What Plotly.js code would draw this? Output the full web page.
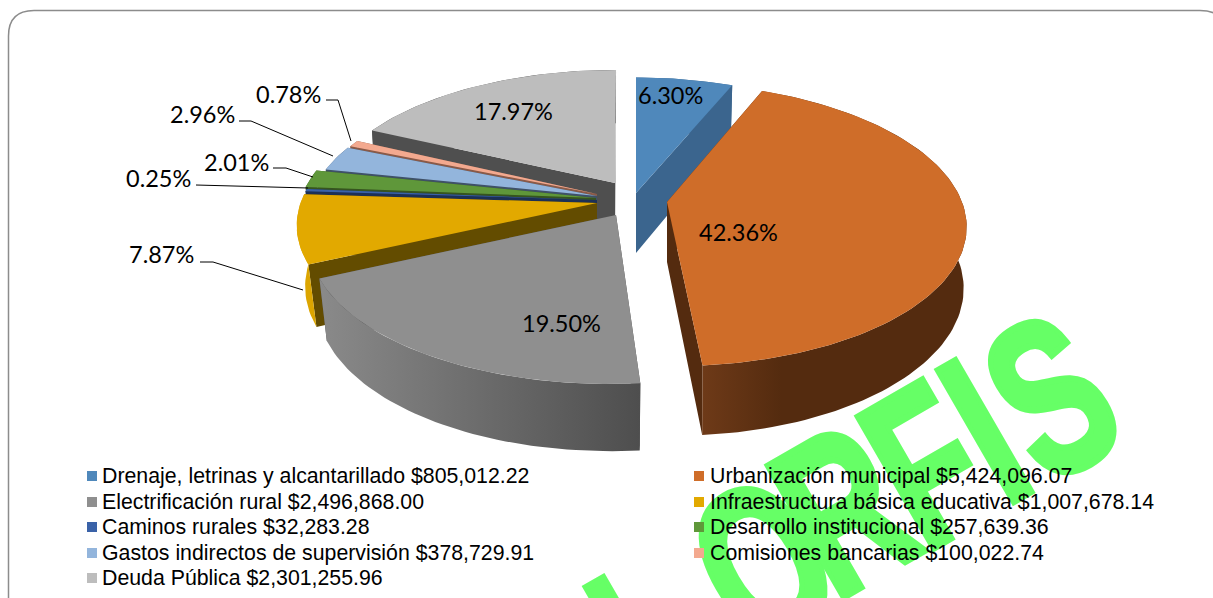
<!DOCTYPE html>
<html>
<head>
<meta charset="utf-8">
<script src="https://cdn.plot.ly/plotly-3.0.1.min.js"></script>
<style>html,body{margin:0;padding:0;background:#fff;overflow:hidden}</style>
</head>
<body>
<div id="chart" style="width:1213px;height:598px"></div>
<script>
const categories = ["Drenaje, letrinas y alcantarillado","Urbanización municipal","Electrificación rural","Infraestructura básica educativa","Caminos rurales","Desarrollo institucional","Gastos indirectos de supervisión","Comisiones bancarias","Deuda Pública"];
const amounts = [805012.22,5424096.07,2496868.00,1007678.14,32283.28,257639.36,378729.91,100022.74,2301255.96];
const percents = [6.30,42.36,19.50,7.87,0.25,2.01,2.96,0.78,17.97];

const topColors = ["#4f88bb","#cf6d29","#8f8f8f","#e2a900","#3a62a8","#5f973a","#93b5dc","#f3a98f","#bdbdbd"];
const wallColors = ["#3b658e","#542b0f","#4f4f4f","#634c00","#1c3056","#36541f","#3f5168","#8a5a48","#4f4f4f"];
const outerStart = ["#3b658e","#6e3a18","#8a8a8a","#dca500","#1c3056","#36541f","#3f5168","#8a5a48","#4f4f4f"];
const outerEnd = ["#3b658e","#542b0f","#4e4e4e","#dca500","#1c3056","#36541f","#3f5168","#8a5a48","#4f4f4f"];

// projection of the pie
const apexX = [636,667,616,597,597,596,597,597,615];
const apexY = [193,202,215,203,200,198,196,194,183];
const radiusX = [0.97,1,1.025,1.005,1,1,0.97,0.96,0.975];
const radiusY = [0.97,1,1.03,1,1,1,0.97,0.96,0.95];
const skew = [0,0.037,-0.035,0,0,0,0,0,-0.009];
const shrink = [0.985,0.99,0.975,0.972,0.985,0.985,0.985,0.985,0.985];
const A = 295, B = 138, K = 0.159, H = 60;
const drawOrder = [8,7,6,5,4,3,0,2,1];

function project(i, deg, bottom) {
  const t = deg * Math.PI / 180, u = Math.sin(t), v = Math.cos(t), w = 1 + K * v;
  const f = bottom ? shrink[i] : 1;
  const dy = f * radiusY[i] * B * v / w;
  return [apexX[i] + f * radiusX[i] * A * u / w - skew[i] * dy, apexY[i] - dy + (bottom ? H / w : 0)];
}
function apexPoint(i, bottom) { return [apexX[i], apexY[i] + (bottom ? H : 0)]; }
function arc(i, a, b, bottom) {
  const n = Math.max(4, Math.ceil(Math.abs(b - a) / 1.5)), pts = [];
  for (let k = 0; k <= n; k++) pts.push(project(i, a + (b - a) * k / n, bottom));
  return pts;
}
function polyTrace(pts, opts) {
  const x = pts.map(p => p ? p[0] : null), y = pts.map(p => p ? p[1] : null);
  return Object.assign({type:"scatter", mode:"lines", x, y, fill:"toself", line:{width:0}, hoverinfo:"skip", showlegend:false}, opts);
}

const traces = [];
const startAngles = []; let acc = 0;
const total = percents.reduce((s, v) => s + v, 0);
percents.forEach(p => { startAngles.push(acc); acc += p / total * 360; });

drawOrder.forEach(i => {
  const a = startAngles[i], b = a + percents[i] / total * 360;
  const radial = [apexPoint(i,false), project(i,a,false), project(i,a,true), apexPoint(i,true), apexPoint(i,false), null,
                  apexPoint(i,false), project(i,b,false), project(i,b,true), apexPoint(i,true), apexPoint(i,false)];
  traces.push(polyTrace(radial, {fillcolor: wallColors[i]}));
  const outer = arc(i,a,b,false).concat(arc(i,b,a,true));
  outer.push(outer[0]);
  traces.push(polyTrace(outer, {fillgradient:{type:"horizontal", colorscale: i === 1
      ? [[0,outerStart[i]],[0.3,outerEnd[i]],[1,outerEnd[i]]]
      : [[0,outerStart[i]],[1,outerEnd[i]]]}}));
  const top = [apexPoint(i,false)].concat(arc(i,a,b,false));
  top.push(apexPoint(i,false));
  traces.push(polyTrace(top, {fillcolor: topColors[i]}));
});

// leader lines
const leaders = [
  [[200,262],[213,262],[303,290]],
  [[196,185],[308,188]],
  [[273,168],[286,168],[313,177]],
  [[239,121],[251,121],[333,156]],
  [[326,100],[338,100],[351,141]]
];
const lx = [], ly = [];
leaders.forEach(l => { l.forEach(p => { lx.push(p[0]); ly.push(p[1]); }); lx.push(null); ly.push(null); });
traces.push({type:"scatter", mode:"lines", x:lx, y:ly, line:{color:"#000",width:1}, hoverinfo:"skip", showlegend:false});

const legendRowY = [476,502,527,553,578];
const annotations = [];
// watermark
const wmFont = {family:"Liberation Sans", size:220, color:"#66ff66", weight:"bold"};
const wmLetters = ["I","O","R","F","I","S"];
const wmX = [632,763,843,926,984,1051];
const wmY = [648,563,510,465,431,397];
wmLetters.forEach((t,i) => {
  const y = Math.min(wmY[i], 597);
  annotations.push({x:wmX[i], y:y, yshift: y - wmY[i], xref:"x", yref:"y", text:t, showarrow:false, textangle:-30,
    xanchor:"center", yanchor:"middle", font:wmFont});
});
// pie labels
const labelX = [670,738,561,161,158,236,202,288,513];
const labelY = [95,232,323,254,178,162,114,94,111];
percents.forEach((p,i) => annotations.push({x:labelX[i], y:labelY[i], xref:"x", yref:"y", text:p.toFixed(2)+"%", showarrow:false,
  xanchor:"center", yanchor:"middle", font:{family:"Lato", size:23.5, color:"#000"}}));
// legend swatches and text
categories.forEach((c,i) => {
  const y = legendRowY[Math.floor(i/2)];
  annotations.push({x:(i % 2 ? 699 : 92), y:y, xref:"x", yref:"y", text:" ", showarrow:false, width:10, height:10, borderpad:0, borderwidth:0,
    bgcolor:topColors[i], xanchor:"center", yanchor:"middle", font:{size:1}});
  annotations.push({x:(i % 2 ? 708 : 100), y:y, xref:"x", yref:"y",
    text:c+" $"+amounts[i].toLocaleString("en-US",{minimumFractionDigits:2,maximumFractionDigits:2}), showarrow:false,
    xanchor:"left", yanchor:"middle", font:{family:"Liberation Sans", size:21.3, color:"#000"}});
});

const layout = {
  width:1213, height:598, margin:{l:0,r:0,t:0,b:0,pad:0}, paper_bgcolor:"#fff", plot_bgcolor:"#fff", showlegend:false,
  xaxis:{range:[0,1213], visible:false, fixedrange:true},
  yaxis:{range:[598,0], visible:false, fixedrange:true},
  shapes:[{type:"path", xref:"x", yref:"y", layer:"below", path:"M8.5,598 L8.5,36 Q8.5,10.5 34,10.5 L1200,10.5 Q1226,10.5 1226,36", line:{color:"#8c8c8c",width:1.5}}],
  annotations
};
Plotly.newPlot("chart", traces, layout, {displayModeBar:false, staticPlot:true}).then(gd => {
  // the watermark is set in a condensed, heavy cut: narrow the glyphs in place
  gd.querySelectorAll(".annotation").forEach((g, idx) => {
    if (idx >= wmLetters.length) return;
    const t = g.querySelector("text");
    if (!t) return;
    const bb = t.getBBox(), cx = bb.x + bb.width / 2;
    t.setAttribute("transform", (t.getAttribute("transform") || "") + " translate(" + cx + ",0) scale(0.68,1) translate(" + (-cx) + ",0)");
    t.style.stroke = "#66ff66";
    t.style.strokeWidth = "7px";
  });
});
</script>
</body>
</html>
